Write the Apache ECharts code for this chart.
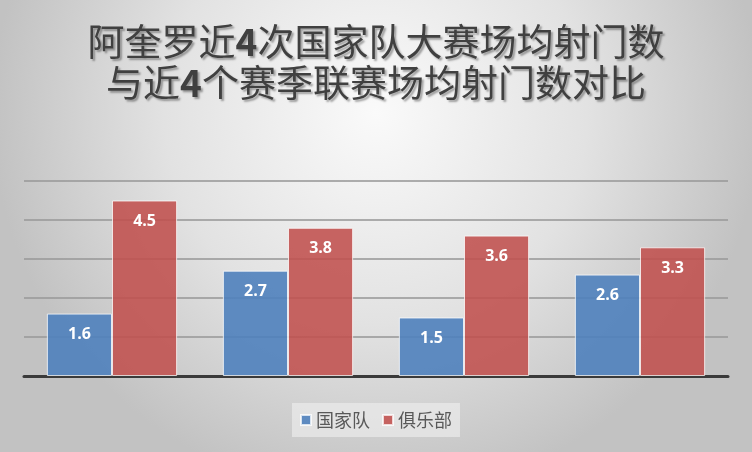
<!DOCTYPE html>
<html><head><meta charset="utf-8">
<script src="https://cdn.jsdelivr.net/npm/echarts@6/dist/echarts.min.js"></script>
<style>html,body{margin:0;padding:0;}#c{width:752px;height:452px;}</style>
</head><body><div id="c"></div>
<script>
const titleText = '阿奎罗近{b|4}次国家队大赛场均射门数\n与近{b|4}个赛季联赛场均射门数对比';
const categories = ['1', '2', '3', '4'];
const seriesNames = ['国家队', '俱乐部'];
const nationalTeam = [1.6, 2.7, 1.5, 2.6];
const club = [4.5, 3.8, 3.6, 3.3];

const chart = echarts.init(document.getElementById('c'));
const labelCfg = {show: true, position: 'insideTop', distance: 13, color: '#fff', fontSize: 16, fontWeight: 'bold', fontFamily: 'Open Sans'};
const shadow = {textShadowColor: 'rgba(0,0,0,0.35)', textShadowOffsetX: 2, textShadowOffsetY: 2, textShadowBlur: 2};
chart.setOption({
  backgroundColor: {type: 'radial', x: 0.5, y: 0.25, r: 0.85, colorStops: [{offset: 0, color: '#fafafa'}, {offset: 0.55, color: '#e2e2e2'}, {offset: 1, color: '#c2c2c2'}]},
  title: {text: titleText, left: 'center', top: 16,
    textStyle: Object.assign({fontFamily: 'Noto Sans CJK SC', fontSize: 37, fontWeight: 'normal', color: '#404040', lineHeight: 41,
      rich: {b: Object.assign({fontFamily: 'Noto Sans CJK SC', fontSize: 37, fontWeight: 'bold', color: '#404040', lineHeight: 41}, shadow)}}, shadow)},
  legend: {bottom: 15, left: 'center', itemWidth: 10, itemHeight: 10, itemGap: 12, icon: 'rect',
    backgroundColor: 'rgba(240,240,240,0.6)', padding: [8, 8],
    textStyle: {fontFamily: 'Noto Sans CJK SC', fontSize: 18, color: '#595959'}},
  grid: {left: 24, right: 24, top: 181, bottom: 76},
  xAxis: {type: 'category', data: categories, axisLabel: {show: false}, axisTick: {show: false},
    axisLine: {lineStyle: {color: '#3a3a3a', width: 3}}},
  yAxis: {type: 'value', min: 0, max: 5, interval: 1, axisLabel: {show: false},
    splitLine: {lineStyle: {color: '#9a9a9a', width: 2, opacity: 0.8}}},
  series: [
    {name: seriesNames[0], type: 'bar', data: nationalTeam, barGap: '0%', barCategoryGap: '26%',
      itemStyle: {color: 'rgba(79,129,189,0.9)', borderColor: 'rgba(255,255,255,0.75)', borderWidth: 1}, label: labelCfg},
    {name: seriesNames[1], type: 'bar', data: club, barGap: '0%', barCategoryGap: '26%',
      itemStyle: {color: 'rgba(192,80,77,0.88)', borderColor: 'rgba(255,255,255,0.75)', borderWidth: 1}, label: labelCfg}
  ]
});
</script></body></html>
